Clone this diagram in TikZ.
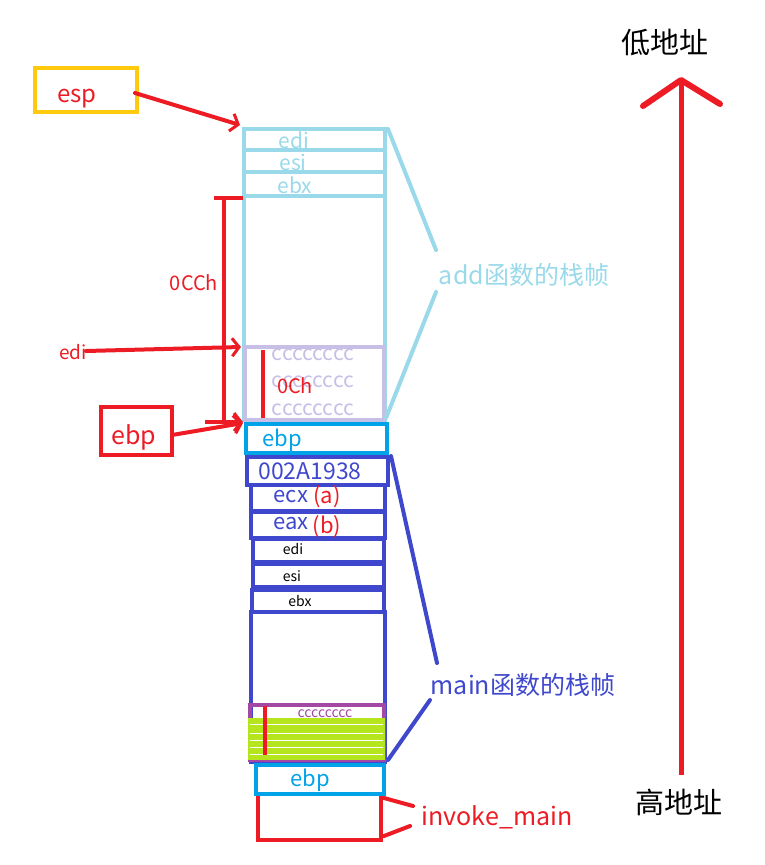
\documentclass[tikz,border=0pt]{standalone}
\usepackage{fontspec}
\setmainfont{Noto Sans CJK SC}
\usetikzlibrary{arrows.meta}
\definecolor{yel}{HTML}{FFC90E}
\definecolor{lblue}{HTML}{99D9EA}
\definecolor{cyanb}{HTML}{00A2E8}
\definecolor{dblue}{HTML}{3F48CC}
\definecolor{lpurp}{HTML}{C8BFE7}
\definecolor{purp}{HTML}{A349A4}
\definecolor{limec}{HTML}{B5E61D}
\definecolor{redc}{HTML}{ED1C24}
\begin{document}
\begin{tikzpicture}[x=1pt,y=-1pt,
  box/.style={draw, line width=4pt, inner sep=0pt, rectangle},
  fs/.style={font=\fontsize{#1pt}{#1pt}\selectfont, inner sep=0pt},
  hand/.style={line width=4pt, line cap=round, draw=redc},
  barb/.style={-{Straight Barb[length=7pt,width=18pt,line width=3pt]}}
]
\useasboundingbox (0,0) rectangle (765,865);

% esp
\node[box, draw=yel, minimum width=102pt, minimum height=44pt] (espbox) at (86,90) {};
\node[fs=24, text=redc] (esptxt) at (77,99) {esp};
\coordinate (espfrom) at (135,93);
\coordinate (espto) at (240,125);
\draw[hand, barb] (espfrom) -- (espto);

% add frame
\node[box, draw=lblue, minimum width=141pt, minimum height=224pt] (addbig) at (314.5,308) {};
\node[box, draw=lblue, minimum width=141pt, minimum height=21pt] (addedi) at (314.5,139.5) {};
\node[box, draw=lblue, minimum width=141pt, minimum height=22pt] (addesi) at (314.5,161) {};
\node[box, draw=lblue, minimum width=141pt, minimum height=24pt] (addebx) at (314.5,184) {};
\node[fs=21, text=lblue] (tedi) at (294,140) {edi};
\node[fs=21, text=lblue] (tesi) at (293,162) {esi};
\node[fs=21, text=lblue] (tebx) at (295,185) {ebx};

\node[box, draw=lpurp, minimum width=139pt, minimum height=73pt] (cc1) at (314.5,383.5) {};
\node[fs=21, text=lpurp] (c1) at (313,355) {cccccccc};
\node[fs=21, text=lpurp] (c2) at (313,382) {cccccccc};
\node[fs=21, text=lpurp] (c3) at (313,410) {cccccccc};
\coordinate (r1a) at (263,350);
\coordinate (r1b) at (263,418);
\draw[hand, line cap=butt] (r1a) -- (r1b);
\node[fs=20, text=redc] (t0ch) at (295,386) {0Ch};

% 0CCh bracket
\coordinate (bt) at (224,198);
\coordinate (bb) at (224,422);
\coordinate (btl) at (214,198);
\coordinate (btr) at (243,198);
\coordinate (bbl) at (205,422);
\coordinate (bbr) at (243,422);
\draw[hand, line cap=butt] (bt) -- (bb);
\draw[hand, line cap=butt] (btl) -- (btr);
\draw[hand, barb, line cap=butt] (bbl) -- (bbr);
\node[fs=20, text=redc] (t0cch) at (194,283) {0CCh};

% edi arrow
\node[fs=19, text=redc] (ediL) at (73,352) {edi};
\coordinate (edifrom) at (86,351);
\coordinate (edito) at (241,347);
\draw[hand, barb] (edifrom) -- (edito);

% ebp red box
\node[box, draw=redc, minimum width=71pt, minimum height=48pt] (ebpbox) at (136.5,431) {};
\node[fs=25, text=redc] (ebptxt) at (134,437) {ebp};
\coordinate (ebpfrom) at (172,435);
\coordinate (ebpto) at (243,423);
\draw[hand, barb] (ebpfrom) -- (ebpto);

% ebp cyan
\node[box, draw=cyanb, minimum width=141pt, minimum height=29pt] (ebp1) at (316.5,438.5) {};
\node[fs=22, text=cyanb] (tebp1) at (282,440) {ebp};

% main frame
\node[box, draw=dblue, minimum width=134pt, minimum height=150pt] (mbig) at (318,687) {};
\node[box, draw=dblue, minimum width=141pt, minimum height=28pt] (mret) at (317.5,471) {};
\node[box, draw=dblue, minimum width=134pt, minimum height=26pt] (mecx) at (318,498) {};
\node[box, draw=dblue, minimum width=134pt, minimum height=26pt] (meax) at (318,525) {};
\node[box, draw=dblue, minimum width=131pt, minimum height=23pt] (medi) at (318.5,550.5) {};
\node[box, draw=dblue, minimum width=131pt, minimum height=23pt] (mesi) at (318.5,575.5) {};
\node[box, draw=dblue, minimum width=132pt, minimum height=22pt] (mebx) at (318,601) {};
\node[fs=23, text=dblue] (tret) at (310,471) {002A1938};
\node[fs=22, text=dblue] (tecx) at (291,497) {ecx};
\node[fs=22, text=redc] (ta) at (327,497) {(a)};
\node[fs=22, text=dblue] (teax) at (291,524) {eax};
\node[fs=22, text=redc] (tb) at (327,527) {(b)};
\node[fs=14] (tmedi) at (293,549) {edi};
\node[fs=14] (tmesi) at (292,576) {esi};
\node[fs=14] (tmebx) at (300,601) {ebx};

\node[box, draw=purp, minimum width=134pt, minimum height=55pt] (cc2) at (317,732.5) {};
\node[fs=14, text=purp] (c4) at (325,714) {cccccccc};
\fill[limec] (248,718) rectangle (385,760);
\foreach \yy in {724,733,740,747,754} \draw[white, line width=1pt] (250,\yy) -- (383,\yy);
\coordinate (r2a) at (265,706);
\coordinate (r2b) at (265,755);
\draw[hand, line cap=butt] (r2a) -- (r2b);

\node[box, draw=cyanb, minimum width=128pt, minimum height=29pt] (ebp2) at (320,779.5) {};
\node[fs=22, text=cyanb] (tebp2) at (310,780) {ebp};

% invoke_main
\coordinate (iv1) at (258,796);
\coordinate (iv2) at (258,840);
\coordinate (iv3) at (381,840);
\coordinate (iv4) at (381,796);
\draw[hand, line cap=butt] (iv1) -- (iv2) -- (iv3) -- (iv4);
\node[fs=25, text=redc] (tinv) at (497,817) {invoke\_main};
\coordinate (il1a) at (384,798);
\coordinate (il1b) at (413,806);
\coordinate (il2a) at (384,836);
\coordinate (il2b) at (410,826);
\draw[hand] (il1a) -- (il1b);
\draw[hand] (il2a) -- (il2b);

% frame labels
\node[fs=25, text=lblue] (tadd) at (524,275) {add函数的栈帧};
\coordinate (al1a) at (388,129);
\coordinate (al1b) at (436,250);
\coordinate (al2a) at (436,292);
\coordinate (al2b) at (386,418);
\draw[line width=4pt, lblue, line cap=round] (al1a) -- (al1b);
\draw[line width=4pt, lblue, line cap=round] (al2a) -- (al2b);

\node[fs=25, text=dblue] (tmain) at (523,685) {main函数的栈帧};
\coordinate (ml1a) at (391,456);
\coordinate (ml1b) at (437,663);
\coordinate (ml2a) at (430,700);
\coordinate (ml2b) at (388,760);
\draw[line width=4pt, dblue, line cap=round] (ml1a) -- (ml1b);
\draw[line width=4pt, dblue, line cap=round] (ml2a) -- (ml2b);

% address arrow
\node[fs=29] (tlow) at (665,43) {低地址};
\node[fs=29] (thigh) at (679,802) {高地址};
\coordinate (aa) at (681,775);
\coordinate (ab) at (681,80);
\coordinate (hl) at (643,106);
\coordinate (hr) at (720,104);
\draw[hand, line width=5pt, line cap=butt] (aa) -- (ab);
\draw[hand, line width=6pt, line join=round] (hl) -- (ab) -- (hr);
\end{tikzpicture}
\end{document}
